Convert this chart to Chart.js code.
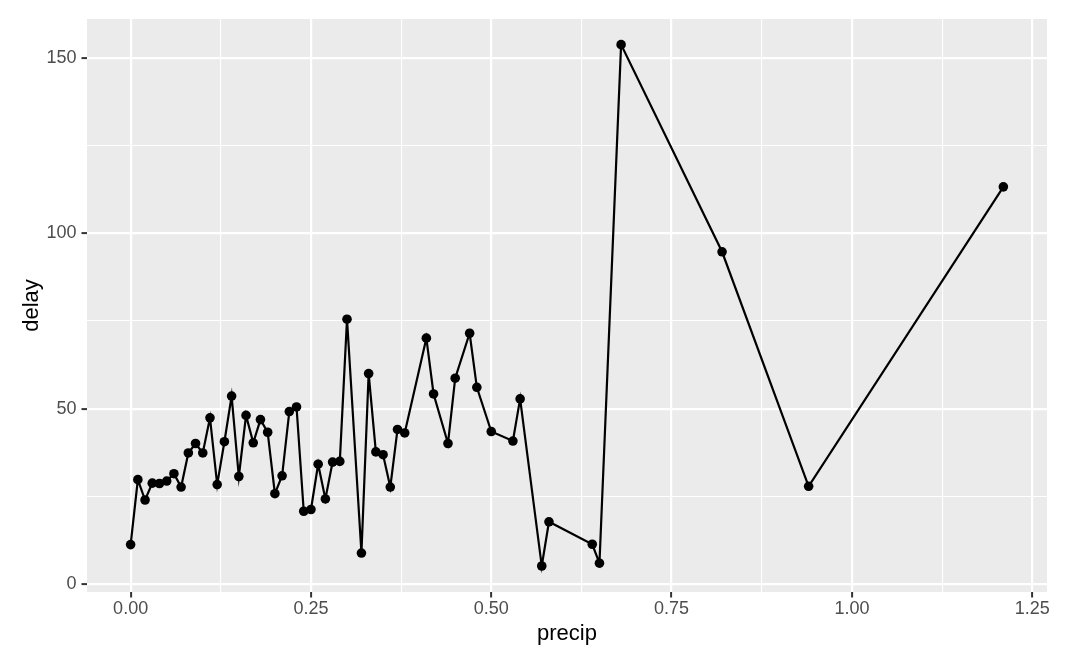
<!DOCTYPE html>
<html>
<head>
<meta charset="utf-8">
<script src="https://cdn.jsdelivr.net/npm/chart.js@4"></script>
<style>
  body { margin: 0; background: #fff; }
</style>
</head>
<body>
<canvas id="chart" width="1084" height="658"></canvas>
<script>
    // mean delay by precipitation
    var precip = [0.00, 0.01, 0.02, 0.03, 0.04, 0.05, 0.06, 0.07, 0.08, 0.09,
                  0.10, 0.11, 0.12, 0.13, 0.14, 0.15, 0.16, 0.17, 0.18, 0.19,
                  0.20, 0.21, 0.22, 0.23, 0.24, 0.25, 0.26, 0.27, 0.28, 0.29,
                  0.30, 0.32, 0.33, 0.34, 0.35, 0.36, 0.37, 0.38, 0.41, 0.42,
                  0.44, 0.45, 0.47, 0.48, 0.50, 0.53, 0.54, 0.57, 0.58, 0.64,
                  0.65, 0.68, 0.82, 0.94, 1.21];
    var delay = [11.3, 29.8, 24.0, 28.8, 28.7, 29.4, 31.5, 27.7, 37.4, 40.1,
                 37.4, 47.4, 28.4, 40.6, 53.6, 30.7, 48.1, 40.3, 46.9, 43.3,
                 25.8, 30.9, 49.2, 50.5, 20.8, 21.3, 34.2, 24.3, 34.8, 35.0,
                 75.5, 8.9, 60.0, 37.7, 36.9, 27.7, 44.1, 43.1, 70.1, 54.2,
                 40.1, 58.7, 71.5, 56.1, 43.5, 40.8, 52.8, 5.2, 17.8, 11.4,
                 6.0, 153.7, 94.7, 27.9, 113.2];

    var xMajor = [0, 0.25, 0.5, 0.75, 1, 1.25];
    var xMinor = [0.125, 0.375, 0.625, 0.875, 1.125];
    var yMajor = [0, 50, 100, 150];
    var yMinor = [25, 75, 125];

    var points = precip.map(function(p, i){ return {x: p, y: delay[i]}; });

    var panelBg = {
      id: 'panelBg',
      beforeDraw: function(chart){
        var a = chart.chartArea, c = chart.ctx;
        c.save();
        c.fillStyle = '#EBEBEB';
        c.fillRect(a.left, a.top, a.right - a.left, a.bottom - a.top);
        c.restore();
      }
    };

    function isMajor(list, v){
      return list.some(function(m){ return Math.abs(m - v) < 1e-9; });
    }

    new Chart(document.getElementById("chart"), {
      type: 'scatter',
      data: {
        datasets: [{
          label: "delay",
          data: points,
          showLine: true,
          borderColor: "#000",
          borderWidth: 2.2,
          backgroundColor: "#000",
          pointRadius: 4.8,
          pointHoverRadius: 4.8,
          pointBorderWidth: 0
        }]
      },
      options: {
        responsive: false,
        animation: false,
        devicePixelRatio: 1,
        layout: { padding: { left: 0, top: 19, right: 37, bottom: 0 } },
        plugins: { legend: { display: false }, tooltip: { enabled: false } },
        scales: {
          x: {
            type: 'linear',
            min: -0.0605,
            max: 1.2705,
            afterBuildTicks: function(scale){
              scale.ticks = xMajor.concat(xMinor).sort().map(function(v){ return {value: v}; });
            },
            afterFit: function(scale){ scale.height = 66; },
            border: { display: false },
            grid: {
              color: '#fff',
              lineWidth: function(ctx){ return isMajor(xMajor, ctx.tick.value) ? 2.2 : 1.1; },
              tickLength: 5.5,
              tickColor: function(ctx){ return isMajor(xMajor, ctx.tick.value) ? '#333' : 'rgba(0,0,0,0)'; },
              tickWidth: 2
            },
            ticks: {
              autoSkip: false,
              maxRotation: 0,
              padding: 1,
              color: '#4D4D4D',
              font: { family: 'Liberation Sans, Arial, sans-serif', size: 18 },
              callback: function(v){ return isMajor(xMajor, v) ? v.toFixed(2) : ''; }
            },
            title: {
              display: true,
              text: 'precip',
              color: '#000',
              padding: { top: 0, bottom: 11 },
              font: { family: 'Liberation Sans, Arial, sans-serif', size: 22 }
            }
          },
          y: {
            type: 'linear',
            min: -2.2,
            max: 161.0,
            afterBuildTicks: function(scale){
              scale.ticks = yMajor.concat(yMinor).sort(function(a,b){ return a-b; }).map(function(v){ return {value: v}; });
            },
            afterFit: function(scale){ scale.width = 87; },
            border: { display: false },
            grid: {
              color: '#fff',
              lineWidth: function(ctx){ return isMajor(yMajor, ctx.tick.value) ? 2.2 : 1.1; },
              tickLength: 5.5,
              tickColor: function(ctx){ return isMajor(yMajor, ctx.tick.value) ? '#333' : 'rgba(0,0,0,0)'; },
              tickWidth: 2
            },
            ticks: {
              autoSkip: false,
              padding: 5,
              color: '#4D4D4D',
              font: { family: 'Liberation Sans, Arial, sans-serif', size: 18 },
              callback: function(v){ return isMajor(yMajor, v) ? String(v) : ''; }
            },
            title: {
              display: true,
              text: 'delay',
              color: '#000',
              padding: { top: 19, bottom: 0 },
              font: { family: 'Liberation Sans, Arial, sans-serif', size: 22 }
            }
          }
        }
      },
      plugins: [panelBg]
    });
</script>
</body>
</html>
